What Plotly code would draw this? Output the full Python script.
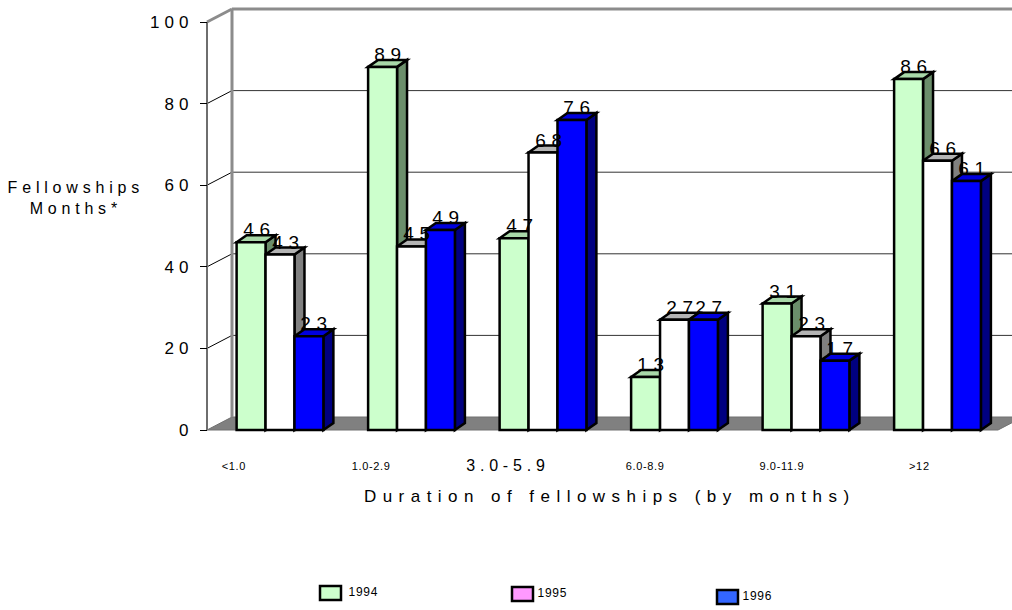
import plotly.graph_objects as go

# ---------------- data ----------------
categories = ["<1.0", "1.0-2.9", "3.0-5.9", "6.0-8.9", "9.0-11.9", ">12"]
series_names = ["1994", "1995", "1996"]
values_1994 = [46, 89, 47, 13, 31, 86]
values_1995 = [43, 45, 68, 27, 23, 66]
values_1996 = [23, 49, 76, 27, 17, 61]
y_tick_values = [0, 20, 40, 60, 80, 100]
y_tick_labels = ["0", "20", "40", "60", "80", "100"]

series_values = [values_1994, values_1995, values_1996]

# ---------------- styles ----------------
front_colors = ["#CCFFCC", "#FFFFFF", "#0000FF"]
side_colors = ["#6B8E6B", "#808080", "#000080"]
top_colors = ["#A8D8A8", "#B4B4B4", "#0000DD"]
legend_colors = ["#CCFFCC", "#FF99FF", "#3366FF"]
cat_font_size = {"3.0-5.9": 16}
FONT = "Liberation Sans, Arial, sans-serif"

W, H = 1012, 610
ML, MR, MT, MB = 190, 0, 5, 176
PW, PH = W - ML - MR, H - MT - MB
UX, UY = 131.5, 4.08          # pixels per data unit
AXIS_PX, ZERO_PY, GROUP0_PX = 207, 430, 280
LABEL0_PX, LABEL_STEP_PX = 234, 137

x_lo = -(GROUP0_PX - ML) / UX
x_hi = x_lo + PW / UX
y_lo = -((H - MB) - ZERO_PY) / UY
y_hi = y_lo + PH / UY
X0 = (AXIS_PX - GROUP0_PX) / UX       # front axis position (data)
XF = X0 + (998 - AXIS_PX) / UX        # floor front right end
DXB, DYB = 25 / UX, 13 / UY           # wall depth
DXD, DYD = 10 / UX, 7 / UY            # bar depth
BARGAP = 0.34
n_series = len(series_values)
bw = (1 - BARGAP) / n_series


def px_x(px):
    return (px - ML) / PW


def px_y(py):
    return ((H - MB) - py) / PH


shapes = []
# floor
shapes.append(dict(type="path", xref="x", yref="y", layer="below",
                   path=f"M{X0},0 L{XF},0 L{XF + DXB},{DYB} L{X0 + DXB},{DYB} Z",
                   fillcolor="#808080", line=dict(color="#707070", width=1)))
# back gridlines + diagonals
for v in y_tick_values[1:-1]:
    shapes.append(dict(type="line", xref="x", yref="y", layer="below",
                       x0=X0 + DXB, y0=v + DYB, x1=x_hi, y1=v + DYB,
                       line=dict(color="#333333", width=1)))
    shapes.append(dict(type="line", xref="x", yref="y", layer="below",
                       x0=X0, y0=v, x1=X0 + DXB, y1=v + DYB,
                       line=dict(color="#000000", width=1)))
top = y_tick_values[-1]
shapes.append(dict(type="line", xref="x", yref="y", layer="below",
                   x0=X0 + DXB, y0=DYB, x1=X0 + DXB, y1=top + DYB,
                   line=dict(color="#8C8C8C", width=3)))
shapes.append(dict(type="line", xref="x", yref="y", layer="below",
                   x0=X0, y0=top, x1=X0 + DXB, y1=top + DYB,
                   line=dict(color="#8C8C8C", width=3)))
shapes.append(dict(type="line", xref="x", yref="y", layer="below",
                   x0=X0 + DXB, y0=top + DYB, x1=x_hi, y1=top + DYB,
                   line=dict(color="#8C8C8C", width=3)))
shapes.append(dict(type="line", xref="x", yref="y", layer="below",
                   x0=X0, y0=0, x1=X0, y1=top,
                   line=dict(color="#6E6E6E", width=2)))

annotations = []
fig = go.Figure()

for j, cat in enumerate(categories):
    for i, vals in enumerate(series_values):
        v = vals[j]
        xc = j + (i - (n_series - 1) / 2) * bw
        xl, xr = xc - bw / 2, xc + bw / 2
        shapes.append(dict(type="path", xref="x", yref="y", layer="below",
                           path=f"M{xr},0 L{xr + DXD},{DYD} L{xr + DXD},{v + DYD} L{xr},{v} Z",
                           fillcolor=side_colors[i], line=dict(color="black", width=2.5)))
        shapes.append(dict(type="path", xref="x", yref="y", layer="below",
                           path=f"M{xl},{v} L{xl + DXD},{v + DYD} L{xr + DXD},{v + DYD} L{xr},{v} Z",
                           fillcolor=top_colors[i], line=dict(color="black", width=2.5)))
        annotations.append(dict(x=xc + DXD / 2, y=v, xref="x", yref="y",
                                text=str(v), showarrow=False, xanchor="center", yanchor="bottom",
                                xshift=3, font=dict(size=19, color="black", family=FONT)))
    annotations.append(dict(x=px_x(LABEL0_PX + LABEL_STEP_PX * j), y=px_y(466),
                            xref="paper", yref="paper",
                            text=cat, showarrow=False, xanchor="center", yanchor="middle",
                            font=dict(size=cat_font_size.get(cat, 11), color="black", family=FONT)))

for i, vals in enumerate(series_values):
    fig.add_trace(go.Bar(x=list(range(len(categories))), y=vals, name=series_names[i],
                         marker=dict(color=front_colors[i], line=dict(color="black", width=2.5)),
                         showlegend=False, hoverinfo="skip"))

# axis titles
annotations.append(dict(x=px_x(76), y=px_y(198), xref="paper", yref="paper",
                        text="Fellowships<br>Months*", showarrow=False,
                        xanchor="center", yanchor="middle",
                        font=dict(size=16, color="black", family=FONT)))
annotations.append(dict(x=px_x(610), y=px_y(496), xref="paper", yref="paper",
                        text="Duration of fellowships (by months)", showarrow=False,
                        xanchor="center", yanchor="middle",
                        font=dict(size=17, color="black", family=FONT)))

# legend (custom)
legend_pos = [(320, 586), (512, 587), (717, 590)]
legend_gap = [28, 25, 25]
for i, name in enumerate(series_names):
    lx, ly = legend_pos[i]
    shapes.append(dict(type="rect", xref="paper", yref="paper",
                       x0=px_x(lx), x1=px_x(lx + 21), y0=px_y(ly), y1=px_y(ly + 14),
                       fillcolor=legend_colors[i], line=dict(color="black", width=2.5)))
    annotations.append(dict(x=px_x(lx + legend_gap[i]), y=px_y(ly + 6), xref="paper", yref="paper",
                            text=name, showarrow=False, xanchor="left", yanchor="middle",
                            font=dict(size=12, color="black", family=FONT)))

fig.update_layout(
    width=W, height=H,
    margin=dict(l=ML, r=MR, t=MT, b=MB, pad=0),
    paper_bgcolor="white", plot_bgcolor="white",
    barmode="group", bargap=BARGAP, bargroupgap=0,
    showlegend=False,
    shapes=shapes, annotations=annotations,
    font=dict(family=FONT, color="black"),
    xaxis=dict(range=[x_lo, x_hi], showgrid=False, zeroline=False, showline=False,
               showticklabels=False, ticks="", fixedrange=True),
    yaxis=dict(range=[y_lo, y_hi], showgrid=False, zeroline=False, showline=False,
               anchor="free", position=px_x(AXIS_PX),
               tickvals=y_tick_values, ticktext=y_tick_labels,
               ticks="outside", ticklen=7, tickwidth=1, tickcolor="black",
               ticklabelstandoff=3,
               tickfont=dict(size=17, color="black", family=FONT), fixedrange=True),
)

post = """
document.body.style.margin = '0';
document.body.style.padding = '0';
function spaceText(){
  document.querySelectorAll('.main-svg text').forEach(function(t){
    var fs = parseFloat(t.style.fontSize || window.getComputedStyle(t).fontSize);
    var ls = (fs >= 14 ? '0.3em' : '0.06em');
    if ((t.textContent || '').indexOf('Duration') === 0) { ls = '0.38em'; }
    t.style.letterSpacing = ls;
  });
}
spaceText();
"""

fig.write_html("out.html", config={"displayModeBar": False, "staticPlot": True}, post_script=post)
